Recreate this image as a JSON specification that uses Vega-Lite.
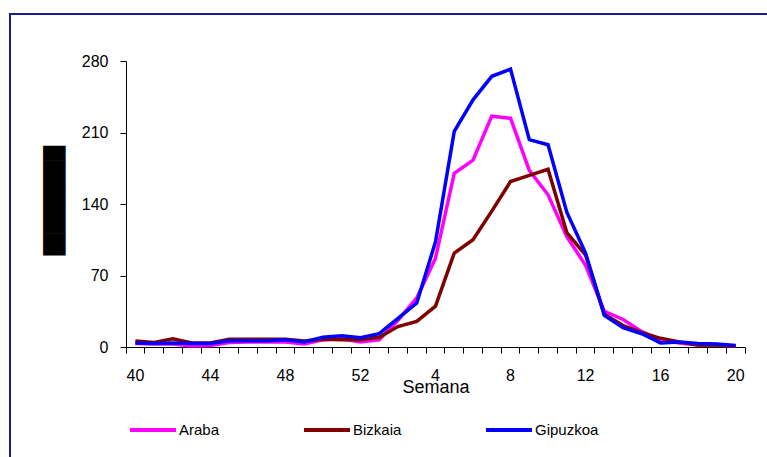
{
  "$schema": "https://vega.github.io/schema/vega-lite/v6.json",
  "width": 780,
  "height": 470,
  "autosize": {"type": "none"},
  "padding": {"left": 10, "top": 14, "right": 0, "bottom": 0},
  "background": "white",
  "config": {
    "view": {"stroke": "#1c1c8f", "strokeWidth": 2},
    "font": "Liberation Sans"
  },
  "data": {
    "values": [
      {"week": "40", "region": "Araba", "value": 3.5}, {"week": "40", "region": "Bizkaia", "value": 6}, {"week": "40", "region": "Gipuzkoa", "value": 4},
      {"week": "41", "region": "Araba", "value": 3}, {"week": "41", "region": "Bizkaia", "value": 4.5}, {"week": "41", "region": "Gipuzkoa", "value": 3.5},
      {"week": "42", "region": "Araba", "value": 3}, {"week": "42", "region": "Bizkaia", "value": 8}, {"week": "42", "region": "Gipuzkoa", "value": 4},
      {"week": "43", "region": "Araba", "value": 1}, {"week": "43", "region": "Bizkaia", "value": 4}, {"week": "43", "region": "Gipuzkoa", "value": 3.5},
      {"week": "44", "region": "Araba", "value": 1.5}, {"week": "44", "region": "Bizkaia", "value": 4}, {"week": "44", "region": "Gipuzkoa", "value": 3.5},
      {"week": "45", "region": "Araba", "value": 4.5}, {"week": "45", "region": "Bizkaia", "value": 7.5}, {"week": "45", "region": "Gipuzkoa", "value": 6},
      {"week": "46", "region": "Araba", "value": 5}, {"week": "46", "region": "Bizkaia", "value": 7.5}, {"week": "46", "region": "Gipuzkoa", "value": 6},
      {"week": "47", "region": "Araba", "value": 5}, {"week": "47", "region": "Bizkaia", "value": 7.5}, {"week": "47", "region": "Gipuzkoa", "value": 6},
      {"week": "48", "region": "Araba", "value": 5}, {"week": "48", "region": "Bizkaia", "value": 7.5}, {"week": "48", "region": "Gipuzkoa", "value": 7},
      {"week": "49", "region": "Araba", "value": 3}, {"week": "49", "region": "Bizkaia", "value": 6}, {"week": "49", "region": "Gipuzkoa", "value": 5},
      {"week": "50", "region": "Araba", "value": 7}, {"week": "50", "region": "Bizkaia", "value": 7.5}, {"week": "50", "region": "Gipuzkoa", "value": 9.5},
      {"week": "51", "region": "Araba", "value": 8}, {"week": "51", "region": "Bizkaia", "value": 7}, {"week": "51", "region": "Gipuzkoa", "value": 11},
      {"week": "52", "region": "Araba", "value": 5}, {"week": "52", "region": "Bizkaia", "value": 7}, {"week": "52", "region": "Gipuzkoa", "value": 9},
      {"week": "1", "region": "Araba", "value": 7}, {"week": "1", "region": "Bizkaia", "value": 9.5}, {"week": "1", "region": "Gipuzkoa", "value": 13},
      {"week": "2", "region": "Araba", "value": 26}, {"week": "2", "region": "Bizkaia", "value": 20}, {"week": "2", "region": "Gipuzkoa", "value": 28},
      {"week": "3", "region": "Araba", "value": 48}, {"week": "3", "region": "Bizkaia", "value": 25}, {"week": "3", "region": "Gipuzkoa", "value": 43},
      {"week": "4", "region": "Araba", "value": 87}, {"week": "4", "region": "Bizkaia", "value": 40}, {"week": "4", "region": "Gipuzkoa", "value": 103},
      {"week": "5", "region": "Araba", "value": 170}, {"week": "5", "region": "Bizkaia", "value": 92}, {"week": "5", "region": "Gipuzkoa", "value": 211},
      {"week": "6", "region": "Araba", "value": 183}, {"week": "6", "region": "Bizkaia", "value": 105}, {"week": "6", "region": "Gipuzkoa", "value": 242},
      {"week": "7", "region": "Araba", "value": 226}, {"week": "7", "region": "Bizkaia", "value": 133}, {"week": "7", "region": "Gipuzkoa", "value": 265},
      {"week": "8", "region": "Araba", "value": 224}, {"week": "8", "region": "Bizkaia", "value": 162}, {"week": "8", "region": "Gipuzkoa", "value": 272},
      {"week": "9", "region": "Araba", "value": 173}, {"week": "9", "region": "Bizkaia", "value": 168}, {"week": "9", "region": "Gipuzkoa", "value": 203},
      {"week": "10", "region": "Araba", "value": 149}, {"week": "10", "region": "Bizkaia", "value": 174}, {"week": "10", "region": "Gipuzkoa", "value": 198},
      {"week": "11", "region": "Araba", "value": 108}, {"week": "11", "region": "Bizkaia", "value": 112}, {"week": "11", "region": "Gipuzkoa", "value": 132},
      {"week": "12", "region": "Araba", "value": 80}, {"week": "12", "region": "Bizkaia", "value": 90}, {"week": "12", "region": "Gipuzkoa", "value": 92},
      {"week": "13", "region": "Araba", "value": 35}, {"week": "13", "region": "Bizkaia", "value": 32}, {"week": "13", "region": "Gipuzkoa", "value": 31},
      {"week": "14", "region": "Araba", "value": 27}, {"week": "14", "region": "Bizkaia", "value": 21}, {"week": "14", "region": "Gipuzkoa", "value": 19},
      {"week": "15", "region": "Araba", "value": 15}, {"week": "15", "region": "Bizkaia", "value": 14}, {"week": "15", "region": "Gipuzkoa", "value": 13},
      {"week": "16", "region": "Araba", "value": 7}, {"week": "16", "region": "Bizkaia", "value": 8.5}, {"week": "16", "region": "Gipuzkoa", "value": 4},
      {"week": "17", "region": "Araba", "value": 4}, {"week": "17", "region": "Bizkaia", "value": 5}, {"week": "17", "region": "Gipuzkoa", "value": 5},
      {"week": "18", "region": "Araba", "value": 2}, {"week": "18", "region": "Bizkaia", "value": 2}, {"week": "18", "region": "Gipuzkoa", "value": 3.5},
      {"week": "19", "region": "Araba", "value": 2}, {"week": "19", "region": "Bizkaia", "value": 2}, {"week": "19", "region": "Gipuzkoa", "value": 3},
      {"week": "20", "region": "Araba", "value": 1}, {"week": "20", "region": "Bizkaia", "value": 1}, {"week": "20", "region": "Gipuzkoa", "value": 1.5}
    ]
  },
  "mark": {"type": "line", "strokeWidth": 3.5},
  "encoding": {
    "x": {
      "field": "week",
      "type": "ordinal",
      "sort": null,
      "scale": {"type": "band", "range": [116, 735], "paddingInner": 0, "paddingOuter": 0},
      "axis": {
        "title": "Semana",
        "bandPosition": 1,
        "tickExtra": true,
        "labelExpr": "indexof(['40','44','48','52','4','8','12','16','20'], datum.label) >= 0 ? datum.label : ''",
        "labelOverlap": false,
        "labelAngle": 0,
        "offset": -137,
        "grid": false,
        "domainColor": "black",
        "tickColor": "black",
        "tickSize": 6,
        "labelFontSize": 16,
        "labelColor": "black",
        "labelPadding": 14,
        "titleFontSize": 18,
        "titleFontWeight": "normal",
        "titleColor": "black",
        "titlePadding": -5
      }
    },
    "y": {
      "field": "value",
      "type": "quantitative",
      "scale": {"domain": [0, 280], "range": [333, 47], "nice": false},
      "axis": {
        "title": "▐███████",
        "titleFont": "DejaVu Sans",
        "titleFontSize": 19,
        "titleFontWeight": "normal",
        "titleColor": "black",
        "titlePadding": 17,
        "values": [0, 70, 140, 210, 280],
        "offset": -116,
        "grid": false,
        "tickSize": 6,
        "domainColor": "black",
        "tickColor": "black",
        "labelFontSize": 16,
        "labelColor": "black",
        "labelPadding": 12
      }
    },
    "color": {
      "field": "region",
      "type": "nominal",
      "scale": {"domain": ["Araba", "Bizkaia", "Gipuzkoa"], "range": ["#FF00FF", "#800000", "#0000FF"]},
      "legend": {
        "orient": "none",
        "legendX": 118,
        "legendY": 391,
        "direction": "horizontal",
        "title": null,
        "symbolType": "stroke",
        "symbolSize": 2116,
        "symbolStrokeWidth": 4,
        "labelFontSize": 15,
        "labelColor": "black",
        "labelOffset": 1,
        "columnPadding": 76
      }
    }
  }
}
